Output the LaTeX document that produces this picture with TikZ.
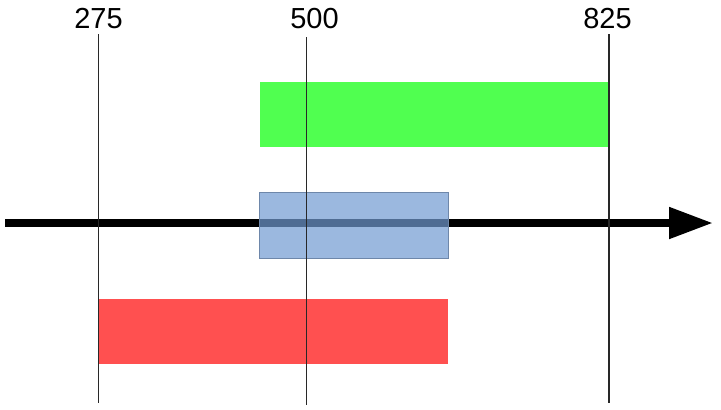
\documentclass[tikz,border=0pt]{standalone}
\usepackage{fontspec}
\setmainfont{Liberation Sans}
\usepackage{tikz}
\usetikzlibrary{arrows.meta}

\definecolor{barGreen}{RGB}{80,255,80}
\definecolor{barRed}{RGB}{255,80,80}
\definecolor{barBlue}{RGB}{113,154,210}
\definecolor{barEdge}{RGB}{110,135,170}
\definecolor{tickGrey}{RGB}{40,40,40}

\tikzset{
  ticklabel/.style={font=\fontsize{29}{31}\selectfont, inner sep=0pt},
  tickline/.style={tickGrey, line width=1.1pt},
  timeaxis/.style={line width=8pt, -{Triangle[length=44pt,width=30pt]}}
}

\begin{document}
\begin{tikzpicture}[x=1pt,y=-1pt]
  \useasboundingbox (0,0) rectangle (721,410);
  % bars
  \fill[barGreen] (260,82) rectangle (609,147);
  \fill[barRed] (99,299) rectangle (448,364);
  \draw[timeaxis] (5,223) -- (713,223);
  \draw[barEdge, fill=barBlue, fill opacity=0.7, line width=0.8pt] (259.5,192.5) rectangle (448.5,258);
  % ticks
  \node[ticklabel] (l275) at (98.5,19) {275};
  \node[ticklabel] (l500) at (314.5,19) {500};
  \node[ticklabel] (l825) at (607.5,19) {825};
  \draw[tickline] (98.7,34) -- (98.7,403);
  \draw[tickline] (306.6,37) -- (306.6,405);
  \draw[tickline] (609,34) -- (609,403);
\end{tikzpicture}
\end{document}
